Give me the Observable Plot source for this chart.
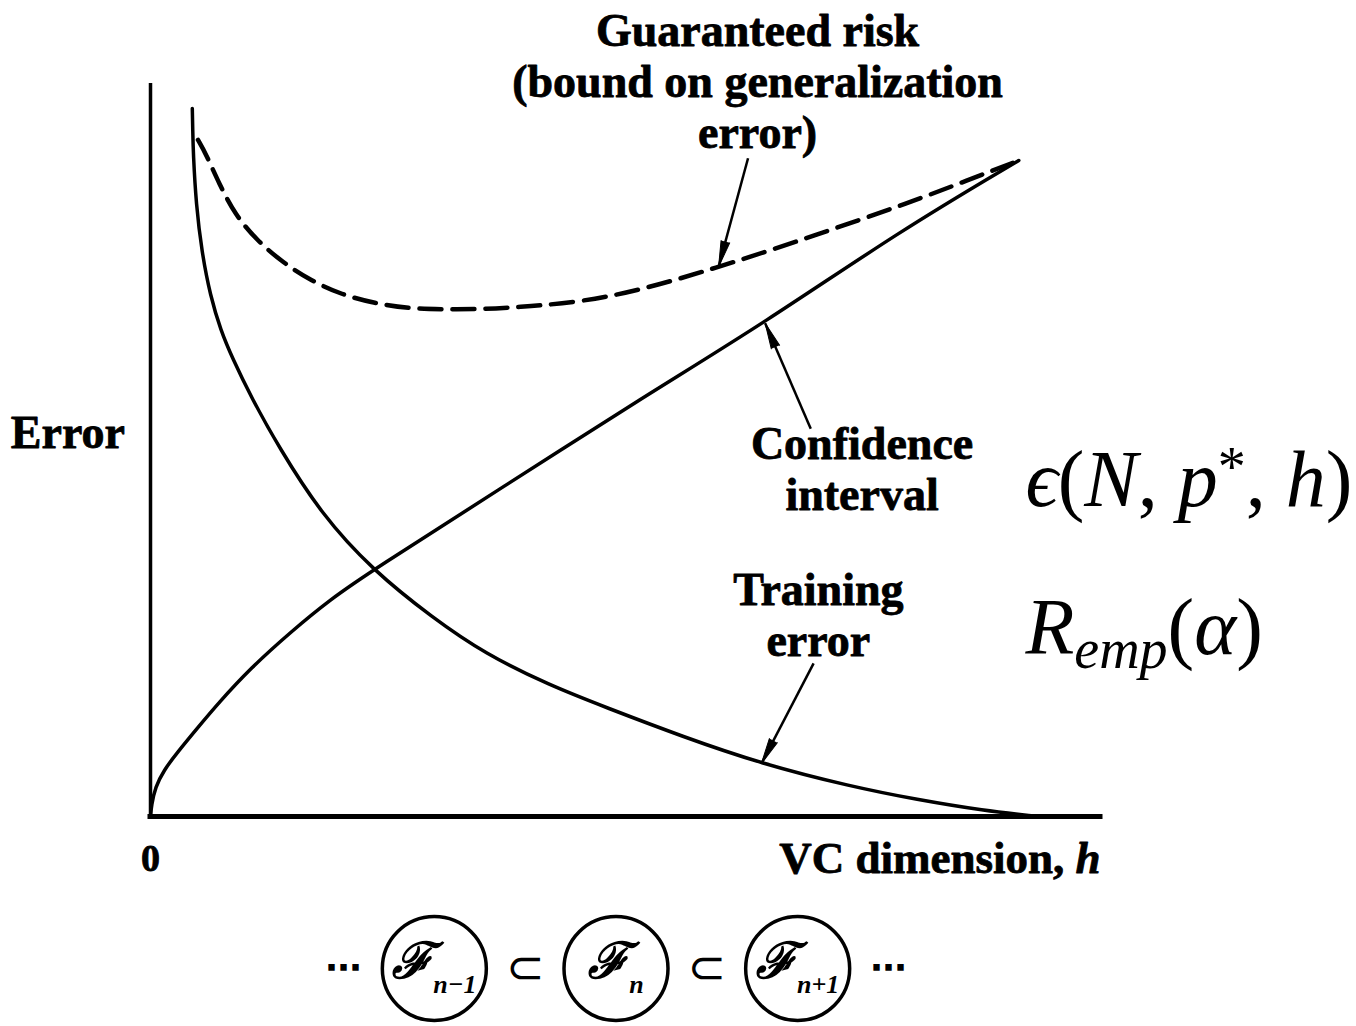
<!DOCTYPE html>
<html>
<head>
<meta charset="utf-8">
<script src="https://cdn.jsdelivr.net/npm/d3@7"></script>
<script src="https://cdn.jsdelivr.net/npm/@observablehq/plot@0.6"></script>
<style>
  html, body { margin: 0; padding: 0; background: #fff; }
  #chart svg { display: block; }
</style>
</head>
<body>
<div id="chart"></div>
<script>
// Structural risk minimisation: error versus VC dimension h (arbitrary units 0–100).

// Training error R_emp(α): falls as the VC dimension grows
const trainingX = [4.4, 4.45, 4.5, 4.8, 5.4, 6.3, 7.4, 8.6, 10.6, 13.5, 18.0, 23.4, 29.7, 35.2, 42.0, 47.9, 56.0, 64.3, 73.7, 80.7, 87.7, 93.4];
const trainingY = [96.6, 93.5, 90.5, 83.5, 77.0, 71.0, 66.3, 62.6, 57.2, 50.4, 41.2, 33.6, 27.1, 22.2, 17.9, 14.9, 10.9, 7.2, 4.1, 2.3, 0.8, 0];

// Confidence interval ε(N, p*, h): rises with the VC dimension
const confidenceX = [0, 0.1, 0.5, 1.4, 2.8, 4.9, 7.1, 10.5, 14.7, 18.9, 23.4, 36.8, 51.6, 64.7, 78.9, 91.4];
const confidenceY = [0, 1.5, 4.0, 6.3, 8.7, 12.0, 15.4, 20.2, 25.1, 29.6, 33.6, 44.7, 57.0, 67.4, 79.9, 89.5];

// Guaranteed risk (bound on the generalization error)
const riskX = [5.0, 5.8, 7.2, 8.9, 11.2, 13.9, 16.9, 20.1, 23.6, 27.2, 30.7, 34.3, 37.9, 47.9, 59.8, 70, 80, 86, 91.4];
const riskY = [92.3, 90.5, 86.4, 82.1, 78.6, 75.6, 73.1, 71.2, 70.0, 69.3, 69.2, 69.2, 69.4, 70.4, 74.9, 79.3, 83.8, 86.8, 89.5];

// Curve annotations (label anchor and arrow, in data units)
const annotationText = ["Guaranteed risk\n(bound on generalization\nerror)", "Confidence\ninterval", "Training\nerror"];
const annotationX = [63.9, 74.9, 70.3];
const annotationY = [100.4, 47.5, 27.6];
const arrowFromX = [62.9, 69.5, 69.8];
const arrowFromY = [89.8, 52.9, 20.9];
const arrowToX = [59.8, 64.7, 64.3];
const arrowToY = [75.0, 67.3, 7.2];

// Axis texts
const yAxisTitle = "Error";
const xAxisTitle = "VC dimension, h";
const xTickLabels = ["0"];
const xTickValues = [0];

// Formula labels on the right
const mathText = ["ϵ(N, p*, h)", "Remp(α)"];
const mathY = [45.9, 25.7];

// Nested sequence of function classes below the axis
const chainTokens = ["⋯", "n−1", "⊂", "n", "⊂", "n+1", "⋯"];
const classSubscripts = ["n−1", "n", "n+1"];

// Frame of the main chart
const frame = {width: 1356, height: 900, left: 150, right: 256, top: 83, bottom: 84};
const serif = "'Liberation Serif', 'DejaVu Serif', serif";
const series = (xs, ys) => xs.map((x, i) => ({x, y: ys[i]}));

// Pixel mapping of the frame, used only to orient the arrowheads
const px = d3.scaleLinear([0, 100], [frame.left, frame.width - frame.right]);
const py = d3.scaleLinear([0, 100], [frame.height - frame.bottom, frame.top]);

const annotations = annotationText.map((text, i) => ({text, x: annotationX[i], y: annotationY[i]}));
const arrows = arrowFromX.map((x1, i) => {
  const x2 = arrowToX[i], y1 = arrowFromY[i], y2 = arrowToY[i];
  const angle = Math.atan2(px(x2) - px(x1), -(py(y2) - py(y1))) * 180 / Math.PI;
  return {x1, y1, x2, y2, angle};
});
const mathLabels = mathText.map((text, i) => ({text, y: mathY[i]}));

const hasSpike = typeof Plot.spike === "function";
const arrowMarks = hasSpike
  ? [
      Plot.link(arrows, {x1: "x1", y1: "y1", x2: "x2", y2: "y2", strokeWidth: 2.5}),
      Plot.vector(arrows, {x: "x2", y: "y2", rotate: "angle", length: 26, r: 4.5, shape: "spike", anchor: "end", fill: "black", stroke: "black", strokeWidth: 1})
    ]
  : [Plot.arrow(arrows, {x1: "x1", y1: "y1", x2: "x2", y2: "y2", strokeWidth: 2.5, headLength: 24, headAngle: 22})];

// Heavy bold serif labels: fill plus a thin outline of the same colour
const labelStyle = {fontFamily: serif, fontWeight: "bold", fill: "black", stroke: "black", strokeWidth: 0.8};

const main = Plot.plot({
  width: frame.width,
  height: frame.height,
  marginLeft: frame.left,
  marginRight: frame.right,
  marginTop: frame.top,
  marginBottom: frame.bottom,
  x: {domain: [0, 100], axis: null},
  y: {domain: [0, 100], axis: null},
  style: {background: "white", color: "black", overflow: "visible"},
  marks: [
    Plot.ruleX([0], {strokeWidth: 3.5}),
    Plot.ruleY([0], {strokeWidth: 5, strokeLinecap: "square"}),
    Plot.line(series(confidenceX, confidenceY), {x: "x", y: "y", curve: "basis", strokeWidth: 3.5}),
    Plot.line(series(trainingX, trainingY), {x: "x", y: "y", curve: "basis", strokeWidth: 3.5}),
    Plot.line(series(riskX, riskY), {x: "x", y: "y", curve: "basis", strokeWidth: 4.5, strokeDasharray: "22,11"}),
    ...arrowMarks,
    Plot.text(annotations, {x: "x", y: "y", text: "text", fontSize: 46, lineHeight: 1.11, ...labelStyle}),
    Plot.text([yAxisTitle], {x: -8.7, y: 52.3, text: d => d, fontSize: 46, ...labelStyle}),
    Plot.text(xTickValues, {x: d => d, y: -5.8, text: (d, i) => xTickLabels[i], fontSize: 38, ...labelStyle}),
    Plot.text([xAxisTitle], {x: 100, y: -5.8, text: d => d, textAnchor: "end", fontSize: 45, ...labelStyle}),
    Plot.text(mathLabels, {x: 92.1, y: "y", text: "text", textAnchor: "start", fontFamily: serif, fontSize: 80, fill: "black"})
  ]
});

// Replace a plain text node by styled pieces (italics, sub- and superscripts)
function setRich(svg, plain, parts) {
  d3.select(svg).selectAll("text")
    .filter(function() { return this.textContent === plain; })
    .each(function() {
      const el = d3.select(this).text(null);
      for (const p of parts) {
        const s = el.append("tspan").text(p.t);
        for (const [k, v] of Object.entries(p.attr || {})) s.attr(k, v);
      }
    });
}

const it = {"font-style": "italic"};
setRich(main, xAxisTitle, [{t: "VC dimension, "}, {t: "h", attr: it}]);
setRich(main, mathText[0], [
  {t: "ϵ", attr: it}, {t: "("}, {t: "N", attr: it}, {t: ", "}, {t: "p", attr: it},
  {t: "*", attr: {"font-size": 56, dy: -20}}, {t: ", ", attr: {dy: 20}},
  {t: "h", attr: it}, {t: ")"}
]);
setRich(main, mathText[1], [
  {t: "R", attr: it}, {t: "emp", attr: {"font-style": "italic", "font-size": 56, dy: 14}},
  {t: "(", attr: {dy: -14}}, {t: "α", attr: it}, {t: ")"}
]);

// Bottom row: ⋯ ℱ(n−1) ⊂ ℱ(n) ⊂ ℱ(n+1) ⋯
const chain = chainTokens.map((t, i) => ({t, i, isClass: classSubscripts.includes(t)}));
const classes = chain.filter(d => d.isClass);
const connectors = chain.filter(d => !d.isClass);

const row = Plot.plot({
  width: frame.width,
  height: 126,
  marginTop: 16,
  marginBottom: 6,
  marginLeft: 0,
  marginRight: 0,
  x: {domain: [0, chainTokens.length - 1], range: [343, 888], axis: null},
  style: {background: "white", color: "black", overflow: "visible"},
  marks: [
    Plot.dot(classes, {x: "i", r: 52, stroke: "black", strokeWidth: 3.5, fill: "none"}),
    Plot.text(classes, {x: "i", text: d => "ℱ" + d.t, fontFamily: serif, fontWeight: "bold", fontStyle: "italic", fontSize: 40, fill: "black"}),
    Plot.text(connectors.filter(d => d.t === "⋯"), {x: "i", text: "t", fontFamily: "'DejaVu Sans', sans-serif", fontWeight: "bold", fontSize: 36, fill: "black"}),
    Plot.text(connectors.filter(d => d.t !== "⋯"), {x: "i", text: "t", fontFamily: "'DejaVu Sans', sans-serif", fontSize: 46, fill: "black"})
  ]
});

for (const s of classSubscripts) {
  setRich(row, "ℱ" + s, [
    {t: "ℱ", attr: {"font-size": 50, dy: -3}},
    {t: s, attr: {"font-size": 26, dy: 15}}
  ]);
}

document.getElementById("chart").append(main, row);
</script>
</body>
</html>
